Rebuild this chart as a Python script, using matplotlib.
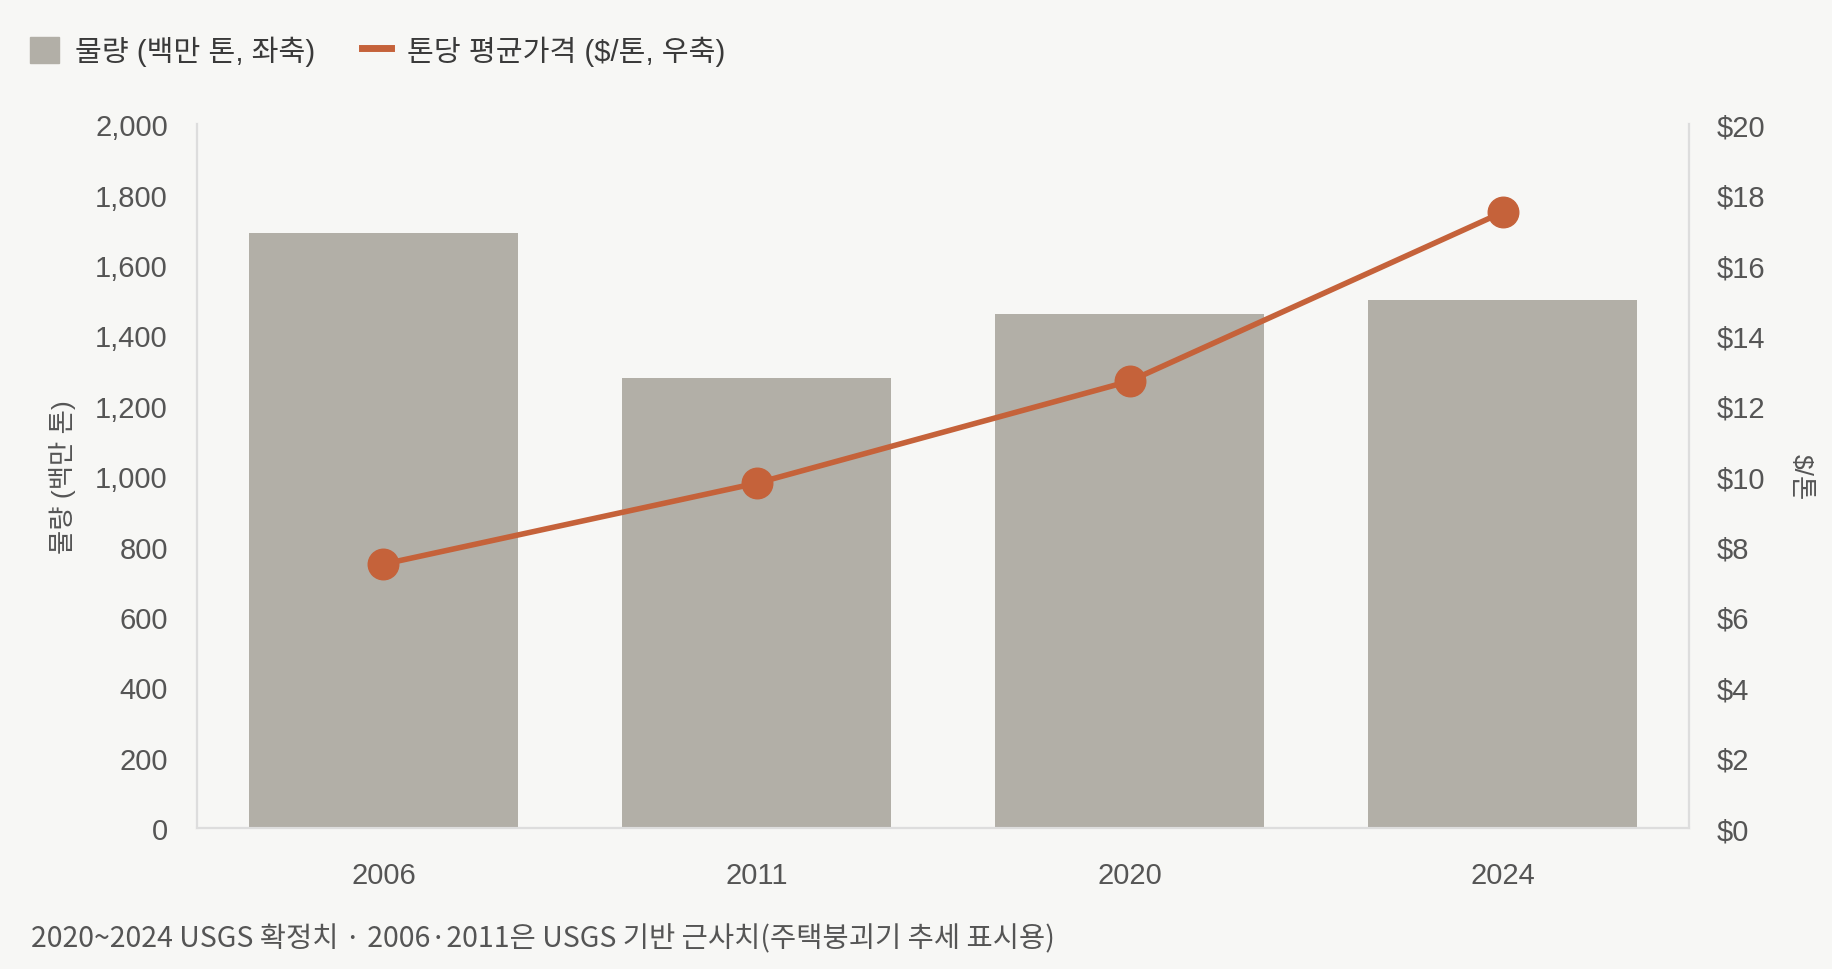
import matplotlib
matplotlib.use('Agg')
import matplotlib.pyplot as plt
from matplotlib.patches import Patch
from matplotlib.lines import Line2D
from matplotlib.ticker import FuncFormatter

plt.rcParams['font.family'] = ['Liberation Sans', 'Noto Sans CJK KR']

# 데이터
years = ['2006', '2011', '2020', '2024']
volume = [1690, 1280, 1460, 1500]       # 백만 톤
price = [7.5, 9.8, 12.7, 17.5]           # $/톤

BG = '#f7f7f5'
BAR = '#b2afa7'
LINE = '#c5623a'
TXT = '#555555'
AXC = '#dddddd'

fig = plt.figure(figsize=(18.32, 9.7), dpi=100, facecolor=BG)
ax = fig.add_axes([0.1075, 0.1453, 0.8145, 0.7255], facecolor=BG)
ax2 = ax.twinx()

x = range(len(years))
ax.bar(x, volume, width=0.72, color=BAR, zorder=2)
ax2.plot(x, price, color=LINE, linewidth=4, marker='o', markersize=22, zorder=3)

ax.set_xlim(-0.5, 3.5)
ax.set_ylim(0, 2000)
ax2.set_ylim(0, 20)
ax.set_yticks(range(0, 2001, 200))
ax2.set_yticks(range(0, 21, 2))
ax.yaxis.set_major_formatter(FuncFormatter(lambda v, p: f'{int(v):,}'))
ax2.yaxis.set_major_formatter(FuncFormatter(lambda v, p: f'${int(v)}'))
ax.set_xticks(list(x))
ax.set_xticklabels(years)

for a in (ax, ax2):
    a.tick_params(axis='both', length=0, labelsize=21, labelcolor=TXT)
    for s in a.spines.values():
        s.set_color(AXC)
        s.set_linewidth(1.5)
    a.spines['top'].set_visible(False)
ax.tick_params(axis='y', pad=21)
ax2.tick_params(axis='y', pad=20)
ax.tick_params(axis='x', pad=24)

ax.set_ylabel('물량 (백만 톤)', fontsize=19, color=TXT, labelpad=14)
ax2.set_ylabel('$/톤', fontsize=19, color=TXT, rotation=270, labelpad=34)

handles = [Patch(facecolor=BAR, edgecolor=BAR, label='물량 (백만 톤, 좌축)'),
           Line2D([0], [0], color=LINE, linewidth=5, label='톤당 평균가격 ($/톤, 우축)')]
fig.legend(handles=handles, loc='center left', bbox_to_anchor=(0.002, 0.947), ncol=2,
           frameon=False, fontsize=21, handlelength=1.0, handleheight=1.0,
           columnspacing=1.6, handletextpad=0.55, labelcolor='#3a3a3a')

fig.text(0.017, 0.032, '2020~2024 USGS 확정치 · 2006·2011은 USGS 기반 근사치(주택붕괴기 추세 표시용)',
         fontsize=20.5, color=TXT, ha='left', va='center', family='Noto Sans CJK KR')

fig.savefig('out.png', dpi=100, facecolor=BG)
